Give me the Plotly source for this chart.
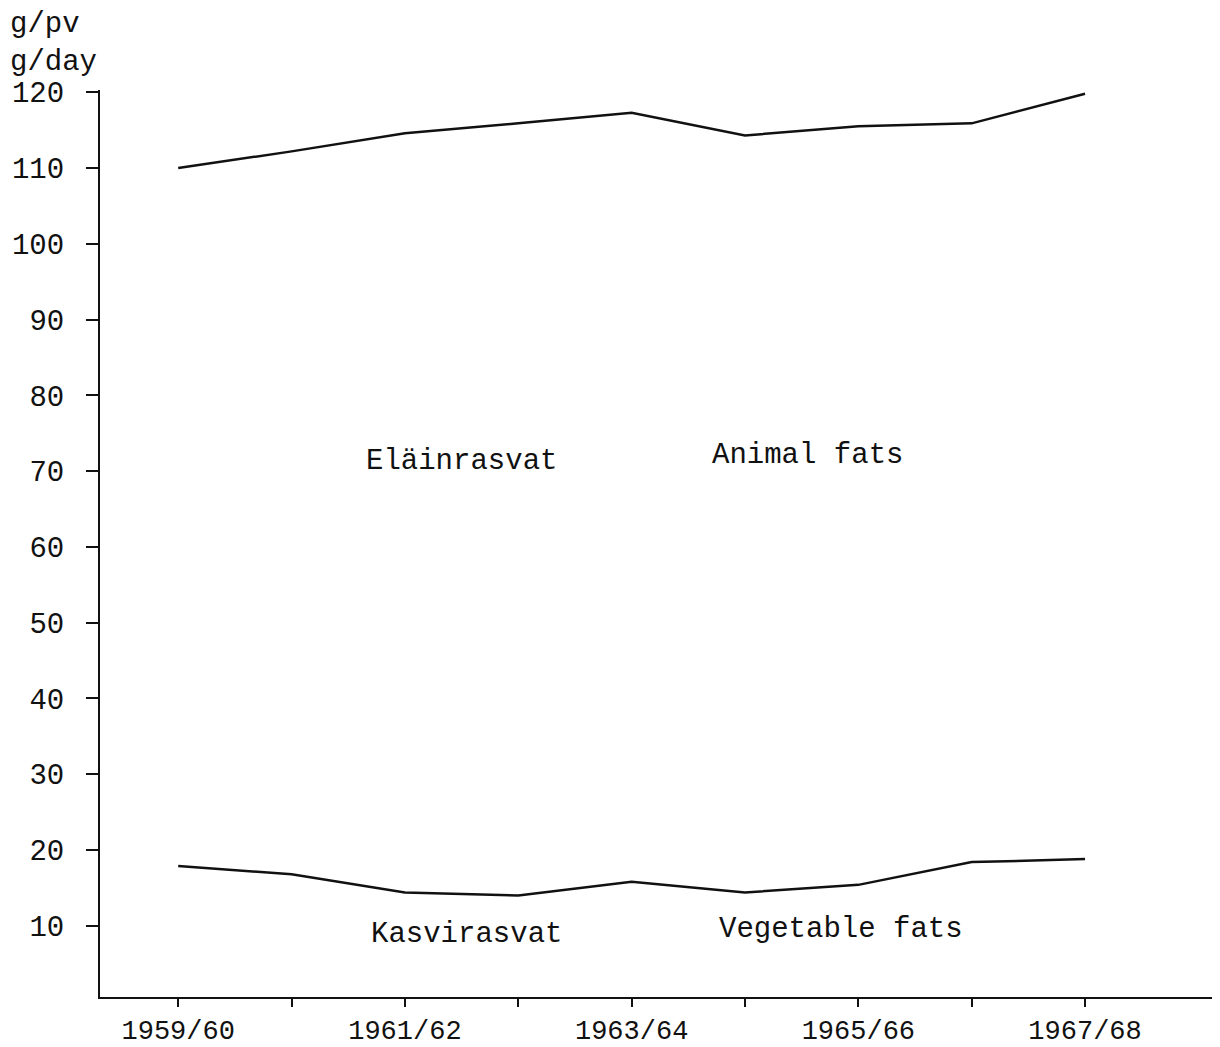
import plotly.graph_objects as go

years = ["1959/60", "1960/61", "1961/62", "1962/63", "1963/64",
         "1964/65", "1965/66", "1966/67", "1967/68"]
animal_fats = [110.0, 112.2, 114.6, 115.9, 117.3, 114.3, 115.5, 115.9, 119.8]
vegetable_fats = [17.9, 16.8, 14.4, 14.0, 15.8, 14.4, 15.4, 18.4, 18.8]
x_tick_labels = ["1959/60", "", "1961/62", "", "1963/64", "", "1965/66", "", "1967/68"]
y_ticks = [10, 20, 30, 40, 50, 60, 70, 80, 90, 100, 110, 120]

FONT = "Liberation Mono, Courier New, monospace"
INK = "#111111"
xs = list(range(len(years)))

fig = go.Figure()
fig.add_trace(go.Scatter(x=xs, y=animal_fats, mode="lines",
                         line=dict(color=INK, width=2.5), name="Animal fats"))
fig.add_trace(go.Scatter(x=xs, y=vegetable_fats, mode="lines",
                         line=dict(color=INK, width=2.5), name="Vegetable fats"))

labels = [
    ("Eläinrasvat", 2.5, 71.3),
    ("Animal fats", 5.55, 72.0),
    ("Kasvirasvat", 2.54, 8.8),
    ("Vegetable fats", 5.85, 9.5),
]
for txt, x, y in labels:
    fig.add_annotation(x=x, y=y, text=txt, showarrow=False, xref="x", yref="y",
                       font=dict(family=FONT, size=29, color=INK))

fig.add_annotation(x=-92/1112, y=1 + 84/907, xref="paper", yref="paper",
                   text="g/pv<br>g/day", showarrow=False, xanchor="left", yanchor="top",
                   align="left", font=dict(family=FONT, size=29, color=INK))

fig.update_layout(
    width=1212, height=1039,
    margin=dict(l=92, r=8, t=82, b=50, autoexpand=False),
    paper_bgcolor="white", plot_bgcolor="white",
    showlegend=False,
    font=dict(family=FONT, size=29, color=INK),
    xaxis=dict(
        range=[-0.69, 9.12], tickmode="array", tickvals=xs, ticktext=x_tick_labels,
        showgrid=False, zeroline=False, showline=True, linecolor=INK, linewidth=2,
        ticks="outside", ticklen=8, tickwidth=2, tickcolor=INK, automargin=False,
        tickfont=dict(family=FONT, size=27, color=INK),
    ),
    yaxis=dict(
        range=[0.6, 120.3], tickmode="array", tickvals=y_ticks,
        showgrid=False, zeroline=False, showline=True, linecolor=INK, linewidth=2,
        ticks="outside", ticklen=12, tickwidth=2, tickcolor=INK, automargin=False,
        ticklabelstandoff=16,
        tickfont=dict(family=FONT, size=29, color=INK),
    ),
)

fig.write_html("out.html")
